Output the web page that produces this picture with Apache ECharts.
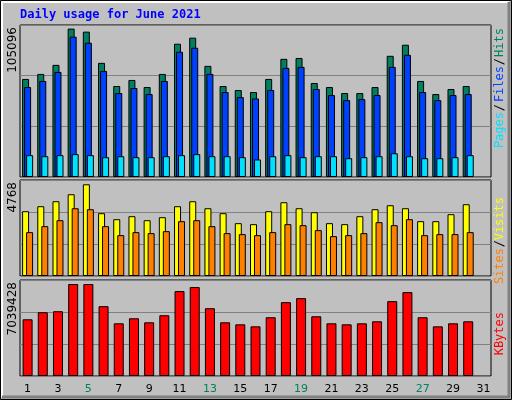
<!DOCTYPE html>
<html>
<head>
<meta charset="utf-8">
<script src="https://cdn.jsdelivr.net/npm/echarts@6/dist/echarts.min.js"></script>
<style>
  html, body { margin: 0; padding: 0; background: #c0c0c0; }
  #chart { width: 512px; height: 400px; }
</style>
</head>
<body>
<div id="chart"></div>
<script>
const days = Array.from({ length: 31 }, (_, i) => String(i + 1));
const weekendDays = ['5', '6', '12', '13', '19', '20', '26', '27'];

const hits = [67800, 71270, 77530, 102600, 100500, 78930, 62900, 67100, 62200, 71270,
  92150, 96330, 76840, 62900, 60130, 58740, 67800, 81700, 82300, 65000,
  62200, 58050, 58050, 62200, 83800, 91450, 66400, 57350, 60830, 62900, null];
const files = [62200, 66400, 72660, 97020, 92850, 73360, 58050, 61530, 57350, 66400,
  86580, 89370, 71270, 58740, 55260, 54290, 60130, 75450, 76140, 60830,
  56660, 53170, 53870, 56660, 76140, 84490, 58740, 53170, 56660, 57350, null];
const pages = [15100, 14370, 15100, 15800, 15100, 13700, 14370, 13700, 13700, 14370,
  15100, 15800, 14370, 14370, 13700, 12100, 14370, 15100, 13700, 14370,
  14370, 13000, 13700, 14370, 16430, 14370, 13000, 13000, 13700, 15100, null];
const visits = [3218, 3466, 3713, 4060, 4554, 3119, 2822, 2970, 2772, 2921,
  3466, 3713, 3366, 3119, 2624, 2575, 3218, 3664, 3366, 3169,
  2624, 2575, 2970, 3317, 3515, 3366, 2723, 2723, 3070, 3565, null];
const sites = [2179, 2475, 2772, 3366, 3317, 2475, 2030, 2179, 2129, 2228,
  2723, 2772, 2475, 2129, 2080, 2030, 2179, 2575, 2525, 2278,
  1981, 2030, 2129, 2674, 2525, 2822, 2030, 2080, 2080, 2179, null];
const kbytes = [4159000, 4676000, 4750000, 6744000, 6744000, 5119000, 3863000, 4233000, 3937000, 4454000,
  6227000, 6522000, 4971000, 3937000, 3789000, 3642000, 4307000, 5414000, 5710000, 4380000,
  3863000, 3789000, 3863000, 4011000, 5488000, 6153000, 4307000, 3642000, 3863000, 4011000, null];

const hitsMax = 105096;
const visitsMax = 4768;
const kbytesMax = 7039428;

const mono = 'DejaVu Sans Mono';
const panels = [
  { top: 25, height: 152, max: hitsMax },
  { top: 180, height: 96, max: visitsMax },
  { top: 280, height: 96, max: kbytesMax }
];

const chart = echarts.init(document.getElementById('chart'));

const grids = panels.map(p => ({
  left: 20, width: 471, top: p.top, height: p.height,
  show: true, backgroundColor: '#c0c0c0', borderColor: '#000', borderWidth: 1
}));

const xAxes = panels.map((p, i) => ({
  type: 'category', gridIndex: i, data: days,
  axisLine: { show: false }, axisTick: { show: false },
  axisLabel: i === 2 ? {
    show: true, margin: 8, fontFamily: 'DejaVu Sans', fontSize: 11,
    color: v => weekendDays.includes(v) ? '#008060' : '#000'
  } : { show: false }
}));

const yAxes = panels.map((p, i) => ({
  type: 'value', gridIndex: i, min: 0, max: p.max, interval: p.max / 3,
  axisLabel: { show: false }, axisLine: { show: false }, axisTick: { show: false },
  splitLine: { show: true, lineStyle: { color: '#808080', width: 1 } }
}));

const bar = (name, data, idx, color, width, gap) => ({
  name, type: 'bar', data, xAxisIndex: idx, yAxisIndex: idx,
  barWidth: width, barGap: gap, animation: false,
  itemStyle: { color, borderColor: '#000', borderWidth: 1 }
});

const vText = (x, y, text, color) => ({
  type: 'text', x, y, rotation: Math.PI / 2,
  style: { text, fill: color, font: '11px "DejaVu Sans Mono"', align: 'left', verticalAlign: 'middle' }
});
const vTextUp = (x, y, text, color, font) => ({
  type: 'text', x, y, rotation: Math.PI / 2,
  style: { text, fill: color, font: font || '12px "DejaVu Sans Mono"', align: 'right', verticalAlign: 'middle' }
});

chart.setOption({
  backgroundColor: '#c0c0c0',
  grid: grids,
  xAxis: xAxes,
  yAxis: yAxes,
  series: [
    bar('Hits', hits, 0, '#008060', 7, '-71%'),
    bar('Files', files, 0, '#0040ff', 7, '-71%'),
    bar('Pages', pages, 0, '#00e0ff', 7, '-71%'),
    bar('Visits', visits, 1, '#ffff00', 7, '-43%'),
    bar('Sites', sites, 1, '#ff8000', 7, '-43%'),
    bar('KBytes', kbytes, 2, '#ff0000', 10, '0%')
  ],
  graphic: [
    { type: 'rect', shape: { x: 0.5, y: 0.5, width: 511, height: 399 }, silent: true,
      style: { fill: null, stroke: '#000', lineWidth: 1 } },
    { type: 'polyline', shape: { points: [[2, 397], [2, 2], [509, 2]] }, silent: true,
      style: { stroke: '#fff', lineWidth: 2, fill: null } },
    { type: 'polyline', shape: { points: [[2, 397], [509, 397], [509, 2]] }, silent: true,
      style: { stroke: '#808080', lineWidth: 3, fill: null } },
    { type: 'text', x: 20, y: 15, style: { text: 'Daily usage for June 2021', fill: '#0000ff',
      font: 'bold 12px "DejaVu Sans Mono"', verticalAlign: 'middle' } },
    vTextUp(13, 27, '105096', '#000', '12px "DejaVu Sans"'),
    vTextUp(13, 182, '4768', '#000', '12px "DejaVu Sans"'),
    vTextUp(13, 282, '7039428', '#000', '12px "DejaVu Sans"'),
    vTextUp(500, 28, 'Hits', '#008060'),
    vTextUp(500, 58, '/', '#000'),
    vTextUp(500, 66, 'Files', '#0040ff'),
    vTextUp(500, 104, '/', '#000'),
    vTextUp(500, 112, 'Pages', '#00e0ff'),
    vTextUp(500, 197, 'Visits', '#ffff00'),
    vTextUp(500, 240, '/', '#000'),
    vTextUp(500, 248, 'Sites', '#ff8000'),
    vTextUp(500, 312, 'KBytes', '#ff0000')
  ]
});
</script>
</body>
</html>
